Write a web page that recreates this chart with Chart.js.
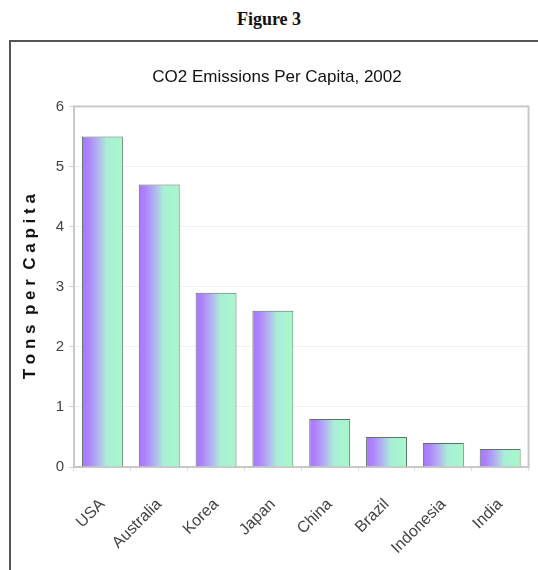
<!DOCTYPE html>
<html>
<head>
<meta charset="utf-8">
<script src="https://cdn.jsdelivr.net/npm/chart.js@4.4.1/dist/chart.umd.min.js"></script>
<style>
  html, body { margin: 0; padding: 0; background: #fff; }
  #wrap { position: relative; width: 538px; height: 570px; overflow: hidden; }
  #fig { position: absolute; left: 0; top: 9px; width: 538px; text-align: center;
         font: bold 18px "Liberation Serif", "DejaVu Serif", serif; color: #111; }
  #frame { position: absolute; left: 9px; top: 40px; width: 600px; height: 600px;
           border: 2px solid #555; box-sizing: border-box; }
  #c { position: absolute; left: 0; top: 0; }
</style>
</head>
<body>
<div id="wrap">
  <div id="fig">Figure 3</div>
  <div id="frame"></div>
  <canvas id="c" width="538" height="570"></canvas>
</div>
<script>
const countries = ['USA', 'Australia', 'Korea', 'Japan', 'China', 'Brazil', 'Indonesia', 'India'];
const tonsPerCapita = [5.5, 4.7, 2.9, 2.6, 0.8, 0.5, 0.4, 0.3];
const yTicks = [0, 1, 2, 3, 4, 5, 6];

const BAR_PCT = 0.9, CAT_PCT = 0.8;

function barGradient(ctx) {
    const chart = ctx.chart;
    const xs = chart.scales.x;
    if (!xs || !chart.chartArea) return '#b0a0f8';
    const cx = xs.getPixelForValue(ctx.dataIndex);
    const half = (xs.width / countries.length) * BAR_PCT * CAT_PCT / 2;
    const g = chart.ctx.createLinearGradient(cx - half, 0, cx + half, 0);
    g.addColorStop(0, '#a877fe');
    g.addColorStop(0.15, '#ad82fc');
    g.addColorStop(0.4, '#b2b6f0');
    g.addColorStop(0.6, '#a9eed6');
    g.addColorStop(1, '#a6f8c9');
    return g;
}

// light gray border around plot area
const plotBorder = {
    id: 'plotBorder',
    beforeDatasetsDraw(chart) {
        const a = chart.chartArea, c = chart.ctx;
        c.save();
        c.strokeStyle = '#c8c8c8';
        c.lineWidth = 2;
        c.strokeRect(a.left, a.top, a.right - a.left, a.bottom - a.top);
        c.restore();
    }
};

new Chart(document.getElementById('c'), {
    type: 'bar',
    data: {
        labels: countries,
        datasets: [{
            data: tonsPerCapita,
            backgroundColor: barGradient,
            borderColor: '#5a7462',
            borderWidth: 1,
            barPercentage: BAR_PCT,
            categoryPercentage: CAT_PCT
        }]
    },
    options: {
        responsive: false,
        animation: false,
        layout: { padding: { left: 20, right: 4, top: 67, bottom: 0 } },
        plugins: {
            legend: { display: false },
            tooltip: { enabled: false },
            title: {
                display: true,
                text: 'CO2 Emissions Per Capita, 2002',
                color: '#111',
                font: { family: '"Liberation Sans", Arial, sans-serif', size: 17, weight: 'normal' },
                padding: { top: 0, bottom: 19 }
            }
        },
        scales: {
            y: {
                min: 0, max: 6,
                afterBuildTicks(s) { s.ticks = yTicks.map(v => ({ value: v })); },
                afterFit(s) { s.width = 54; },
                border: { display: false },
                grid: { color: '#f2f2f2', lineWidth: 1, tickLength: 5, tickColor: '#d0d0d0', drawOnChartArea: true },
                ticks: { color: '#444', padding: 5, font: { family: '"Liberation Sans", Arial, sans-serif', size: 15 } },
                title: {
                    display: true,
                    text: 'T o n s  p e r  C a p i t a',
                    color: '#111',
                    font: { family: '"Liberation Sans", Arial, sans-serif', size: 17, weight: 'bold' },
                    padding: { top: 0, bottom: 0 }
                }
            },
            x: {
                afterFit(s) { s.height = 103; },
                border: { display: false },
                grid: { display: true, drawOnChartArea: false, tickLength: 4, tickColor: '#dddddd' },
                ticks: {
                    color: '#444', minRotation: 45, maxRotation: 45, padding: 24,
                    font: { family: '"Liberation Sans", Arial, sans-serif', size: 16 }
                }
            }
        }
    },
    plugins: [plotBorder]
});
</script>
</body>
</html>
